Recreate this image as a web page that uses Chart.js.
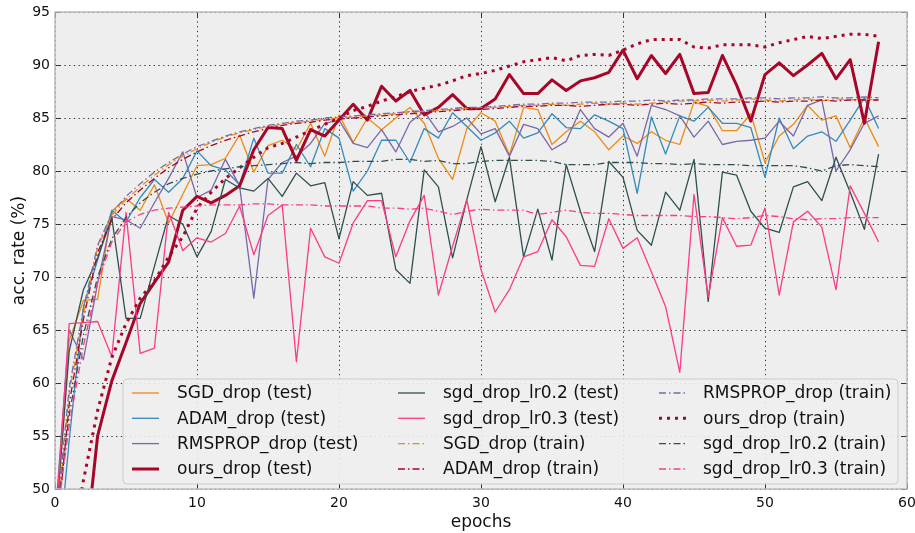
<!DOCTYPE html>
<html><head><meta charset="utf-8">
<script src="https://cdn.jsdelivr.net/npm/chart.js@4/dist/chart.umd.min.js"></script>
<style>html,body{margin:0;padding:0;background:#fff;}canvas{display:block;}</style>
</head><body>
<canvas id="c" width="915" height="533"></canvas>
<script>
const epochs = [0,1,2,3,4,5,6,7,8,9,10,11,12,13,14,15,16,17,18,19,20,21,22,23,24,25,26,27,28,29,30,31,32,33,34,35,36,37,38,39,40,41,42,43,44,45,46,47,48,49,50,51,52,53,54,55,56,57,58];
const xTicks = [0,10,20,30,40,50,60];
const yTicks = [50,55,60,65,70,75,80,85,90,95];

const sgdTest = [45,64,67.8,67.9,76.2,77.4,76.3,78.7,75.1,77.8,80.5,80.6,81.2,83.4,79.9,82.4,82.9,82.0,84.5,81.4,85.3,82.7,85.0,83.9,85.0,86.0,84.5,81.2,79.2,84.0,85.5,84.7,81.5,86.0,85.8,82.5,83.7,84.7,83.7,82.0,83.3,82.6,83.7,82.9,82.5,86.5,86.1,83.8,83.8,85.4,80.8,83.3,84.4,86.2,84.8,85.2,82.2,85.0,82.3];
const adamTest = [40,54.6,67.2,71.6,76.3,75.2,77.5,79.2,78.0,79.3,81.9,80.5,80.1,78.7,83.1,79.8,79.8,82.5,80.4,84.0,83.1,78.1,80.0,82.9,82.9,80.8,84.0,83.1,85.5,84.2,82.9,83.6,84.7,83.1,83.6,85.4,84.1,84.0,85.3,84.7,84.0,77.9,85.1,81.6,85.2,84.7,86.0,84.5,84.5,84.1,79.4,85.0,82.1,83.3,83.7,82.8,84.8,86.9,84.0];
const rmsTest = [47,65.0,62.2,69.4,75.7,75.4,74.6,77.0,79.3,81.8,77.5,78.2,81.1,78.6,68.0,79.2,80.8,81.4,82.6,84.5,84.8,82.6,82.2,83.9,81.8,84.6,85.6,83.7,84.2,85.0,83.5,84.0,81.4,84.4,84.0,82.0,82.8,85.8,84.0,83.2,84.5,81.4,86.2,85.8,85.2,83.2,84.7,82.5,82.8,82.9,83.1,84.7,83.3,86.2,86.7,80.0,82.0,84.5,85.2];
const oursTest = [35,40,42.5,55.0,60.2,63.8,67.5,69.5,71.4,76.3,77.6,77.0,77.7,78.6,82.0,84.1,84.0,81.0,83.9,83.3,84.8,86.3,84.8,88.0,86.6,87.6,85.3,86.0,87.2,85.9,85.9,86.8,89.1,87.3,87.3,88.6,87.6,88.5,88.8,89.3,91.4,88.7,90.9,89.2,91.0,87.3,87.4,90.9,88.1,84.7,89.1,90.2,89.0,90.0,91.1,88.7,90.5,84.5,92.2];
const lr02Test = [46,63,68.8,71.8,75.6,66.1,66.1,71.0,75.8,75.0,71.9,74.3,79.2,78.4,78.1,79.3,77.6,79.8,78.6,78.9,73.6,79.0,77.7,77.9,70.7,69.4,80.1,78.5,71.8,77.3,82.3,77.1,81.3,71.9,76.4,71.6,80.6,76.2,72.4,80.9,79.4,74.4,73.0,78.0,76.3,81.1,67.7,79.9,79.6,76.2,74.6,74.2,78.5,79.0,77.2,81.3,78.0,74.5,81.6];
const lr03Test = [46,65.6,65.7,65.8,62.5,76.1,62.8,63.3,76.1,72.5,73.7,73.3,74.1,76.7,72.1,75.8,76.8,62.0,74.6,71.9,71.3,75.1,77.2,77.2,71.9,75.3,77.7,68.3,72.9,77.3,70.7,66.7,68.8,71.9,72.4,75.4,73.8,71.1,71.0,75.5,72.7,73.7,70.5,67.2,61.0,77.8,68.1,75.6,72.9,73.0,76.5,68.3,75.2,76.2,74.7,68.8,78.6,76.0,73.3];
const sgdTrain = [45,59,66.5,72.8,75.8,77.3,78.5,79.6,80.6,81.4,82.1,82.7,83.2,83.6,83.9,84.2,84.4,84.6,84.7,84.9,85.0,85.1,85.2,85.3,85.4,85.6,85.6,85.7,85.8,85.9,86.0,86.0,86.1,86.2,86.2,86.3,86.2,86.3,86.4,86.3,86.4,86.3,86.4,86.5,86.6,86.6,86.7,86.6,86.7,86.8,86.7,86.6,86.7,86.8,86.6,86.8,86.7,86.8,86.7];
const adamTrain = [44,58,66,72.3,75.4,77.0,78.2,79.3,80.3,81.1,81.8,82.4,82.9,83.3,83.7,84.0,84.3,84.5,84.6,84.8,84.9,85.0,85.1,85.2,85.3,85.4,85.5,85.6,85.7,85.8,85.8,85.9,86.0,86.1,86.1,86.2,86.2,86.1,86.2,86.3,86.3,86.2,86.3,86.4,86.3,86.4,86.5,86.4,86.5,86.5,86.6,86.5,86.6,86.6,86.7,86.6,86.7,86.7,86.7];
const rmsTrain = [46,59.5,67,73,76.0,77.6,78.8,79.9,80.8,81.6,82.3,82.8,83.3,83.7,84.0,84.3,84.5,84.7,84.8,85.0,85.1,85.2,85.3,85.4,85.5,85.6,85.7,85.8,85.9,86.0,86.0,86.1,86.2,86.3,86.3,86.4,86.4,86.5,86.5,86.5,86.6,86.6,86.7,86.6,86.7,86.7,86.8,86.8,86.8,86.9,86.9,86.8,86.9,86.9,87.0,86.9,86.9,87.0,86.9];
const oursTrain = [35,43,50.8,57.4,62.4,65.6,68.0,69.6,71.9,73.8,76.5,78.0,79.3,80.3,81.3,82.2,82.6,83.2,83.8,84.4,85.0,85.7,86.1,86.6,87.0,87.5,87.8,88.1,88.5,89.0,89.2,89.5,89.9,90.3,90.5,90.7,90.4,90.9,91.0,90.9,91.4,92.0,92.4,92.4,92.4,91.7,91.6,91.9,91.9,91.9,91.7,92.1,92.4,92.7,92.5,92.7,92.9,92.9,92.7];
const lr02Train = [46,57,64.5,70,73.6,75.6,77.0,78.0,78.8,79.3,79.7,80.0,80.2,80.4,80.5,80.6,80.7,80.8,80.7,80.8,80.8,80.9,80.9,80.9,81.1,81.1,80.9,81.0,80.7,80.7,80.9,81.0,81.0,81.0,81.0,80.9,80.6,80.6,80.6,80.8,80.8,80.8,80.7,80.7,80.6,80.7,80.6,80.6,80.6,80.5,80.5,80.5,80.5,80.3,80.0,80.5,80.6,80.5,80.4];
const lr03Train = [46,56,63.5,69.5,73.3,75.2,75.9,76.3,76.5,76.6,76.7,76.8,76.8,76.8,76.9,76.9,76.8,76.8,76.8,76.7,76.7,76.7,76.7,76.5,76.5,76.4,76.5,76.2,75.9,76.2,76.4,76.3,76.3,76.3,75.9,76.1,76.3,76.1,76.0,76.0,75.9,75.8,75.8,75.8,75.8,75.7,75.7,75.6,75.5,75.6,75.8,75.7,75.5,75.4,75.5,75.5,75.6,75.6,75.6];

const labels = ['SGD_drop (test)','ADAM_drop (test)','RMSPROP_drop (test)','ours_drop (test)','sgd_drop_lr0.2 (test)','sgd_drop_lr0.3 (test)','SGD_drop (train)','ADAM_drop (train)','RMSPROP_drop (train)','ours_drop (train)','sgd_drop_lr0.2 (train)','sgd_drop_lr0.3 (train)'];
const series = [sgdTest, adamTest, rmsTest, oursTest, lr02Test, lr03Test, sgdTrain, adamTrain, rmsTrain, oursTrain, lr02Train, lr03Train];

const C = {orange:'#EE8A12', blue:'#348ABD', purple:'#7A68A6', red:'#A60628', slate:'#2F4F4F', pink:'#FA3B86'};
const DASHDOT = [7,3,1.5,3];
const styles = [
  {c:C.orange, w:1.3, d:[]},
  {c:C.blue, w:1.3, d:[]},
  {c:C.purple, w:1.3, d:[]},
  {c:C.red, w:3, d:[]},
  {c:C.slate, w:1.3, d:[]},
  {c:C.pink, w:1.3, d:[]},
  {c:C.orange, w:1.3, d:DASHDOT},
  {c:C.red, w:1.3, d:DASHDOT},
  {c:C.purple, w:1.3, d:DASHDOT},
  {c:C.red, w:3, d:[3,5]},
  {c:C.slate, w:1.3, d:DASHDOT},
  {c:C.pink, w:1.3, d:DASHDOT}
];

const FONT = "'DejaVu Sans', 'Liberation Sans', sans-serif";

const datasets = series.map((vals, i) => ({
  label: labels[i],
  data: vals.map((v, k) => ({x: epochs[k], y: v})),
  borderColor: styles[i].c,
  backgroundColor: styles[i].c,
  borderWidth: styles[i].w,
  borderDash: styles[i].d,
  borderCapStyle: 'butt',
  borderJoinStyle: 'round',
  pointRadius: 0,
  fill: false,
  tension: 0,
  order: 100 - i
}));

const decor = {
  id: 'decor',
  beforeDraw(chart) {
    const {ctx, chartArea: a} = chart;
    ctx.save();
    ctx.fillStyle = '#eeeeee';
    ctx.fillRect(a.left, a.top, a.right - a.left, a.bottom - a.top);
    ctx.restore();
  },
  afterDatasetsDraw(chart) {
    const {ctx, chartArea: a, scales} = chart;
    ctx.save();
    ctx.strokeStyle = '#333';
    ctx.lineWidth = 1;
    ctx.setLineDash([]);
    yTicks.forEach(v => {
      const y = Math.round(scales.y.getPixelForValue(v)) + 0.5;
      ctx.beginPath();
      ctx.moveTo(a.left, y); ctx.lineTo(a.left + 5, y);
      ctx.moveTo(a.right, y); ctx.lineTo(a.right - 5, y);
      ctx.stroke();
    });
    xTicks.forEach(v => {
      const x = Math.round(scales.x.getPixelForValue(v)) + 0.5;
      ctx.beginPath();
      ctx.moveTo(x, a.bottom); ctx.lineTo(x, a.bottom - 5);
      ctx.moveTo(x, a.top); ctx.lineTo(x, a.top + 5);
      ctx.stroke();
    });
    ctx.strokeStyle = '#bcbcbc';
    ctx.lineWidth = 1.5;
    ctx.strokeRect(a.left, a.top, a.right - a.left, a.bottom - a.top);

    const bx = 123, by = 379, bw = 775, bh = 105, r = 4;
    ctx.beginPath();
    ctx.moveTo(bx + r, by);
    ctx.arcTo(bx + bw, by, bx + bw, by + bh, r);
    ctx.arcTo(bx + bw, by + bh, bx, by + bh, r);
    ctx.arcTo(bx, by + bh, bx, by, r);
    ctx.arcTo(bx, by, bx + bw, by, r);
    ctx.closePath();
    ctx.fillStyle = 'rgba(238,238,238,0.9)';
    ctx.fill();
    ctx.strokeStyle = '#cccccc';
    ctx.lineWidth = 1;
    ctx.stroke();

    const colH = [132, 398, 659];
    const colT = [177, 443, 703];
    const rowY = [393, 418.3, 443.6, 469];
    ctx.font = '17px ' + FONT;
    ctx.textBaseline = 'middle';
    ctx.textAlign = 'left';
    chart.data.datasets.forEach((ds, i) => {
      const col = Math.floor(i / 4), row = i % 4;
      const y = rowY[row];
      ctx.strokeStyle = ds.borderColor;
      ctx.lineWidth = ds.borderWidth;
      ctx.setLineDash(ds.borderDash);
      ctx.lineCap = 'butt';
      ctx.beginPath();
      ctx.moveTo(colH[col], y);
      ctx.lineTo(colH[col] + 27, y);
      ctx.stroke();
      ctx.setLineDash([]);
      ctx.fillStyle = '#111';
      ctx.fillText(ds.label, colT[col], y + 1);
    });
    ctx.restore();
  }
};

new Chart(document.getElementById('c'), {
  type: 'line',
  data: {datasets},
  options: {
    responsive: false,
    animation: false,
    devicePixelRatio: 1,
    layout: {padding: {left: 0, right: 8, top: 12, bottom: 0}},
    plugins: {legend: {display: false}, tooltip: {enabled: false}},
    scales: {
      x: {
        type: 'linear', min: 0, max: 60,
        afterFit(s) { s.height = 44; s.paddingLeft = 0; s.paddingRight = 0; },
        afterBuildTicks(s) { s.ticks = xTicks.map(v => ({value: v})); },
        ticks: {padding: 6, color: '#111', font: {family: FONT, size: 14}, maxRotation: 0},
        grid: {color: '#333', lineWidth: 1, drawTicks: false},
        border: {display: false, dash: [1.3, 3.4]},
        title: {display: true, text: 'epochs', color: '#111', font: {family: FONT, size: 17}, padding: {top: 0, bottom: 0}}
      },
      y: {
        type: 'linear', min: 50, max: 95,
        afterFit(s) { s.width = 55; s.paddingTop = 0; s.paddingBottom = 0; },
        afterBuildTicks(s) { s.ticks = yTicks.map(v => ({value: v})); },
        ticks: {padding: 5, color: '#111', font: {family: FONT, size: 14}},
        grid: {color: '#333', lineWidth: 1, drawTicks: false},
        border: {display: false, dash: [1.3, 3.4]},
        title: {display: true, text: 'acc. rate (%)', color: '#111', font: {family: FONT, size: 17}, padding: {top: 9, bottom: 0}}
      }
    }
  },
  plugins: [decor]
});
</script>
</body></html>
